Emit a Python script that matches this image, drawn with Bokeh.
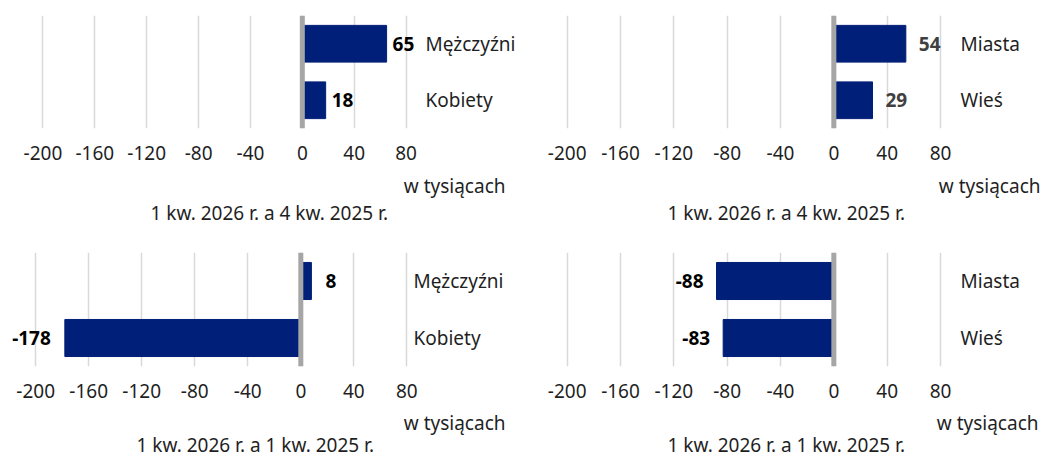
from bokeh.plotting import figure
from bokeh.models import (ColumnDataSource, FactorRange, Range1d, FixedTicker,
                          Span, Title)
from bokeh.layouts import column, row
from bokeh.core.properties import value
from bokeh.embed import file_html
from bokeh.resources import INLINE

# ---- data ----
cats_gender = ["Mężczyźni", "Kobiety"]
cats_place = ["Miasta", "Wieś"]
qoq_gender = [65, 18]      # 1 kw. 2026 vs 4 kw. 2025
qoq_place = [54, 29]
yoy_gender = [8, -178]     # 1 kw. 2026 vs 1 kw. 2025
yoy_place = [-88, -83]
x_ticks = [-200, -160, -120, -80, -40, 0, 40, 80]
subtitle_qoq = "1 kw. 2026 r. a 4 kw. 2025 r."
subtitle_yoy = "1 kw. 2026 r. a 1 kw. 2025 r."
unit_label = "w tysiącach"

FONT = "Noto Sans"
FS = "19px"
BAR = "#001f78"
TXT = "#1f1f1f"


def panel(cats, vals, subtitle, width, height, x_start, x_end, mb_left, mb_right,
          mb_top, mb_bottom, gap, label_color, unit_off, sub_off,
          s_axis, s_t1, s_t2):
    p = figure(width=width, height=height, output_backend="svg",
               toolbar_location=None, y_axis_location="right",
               x_range=Range1d(x_start, x_end),
               y_range=FactorRange(factors=list(reversed(cats)), range_padding=0),
               min_border_left=mb_left, min_border_right=mb_right,
               min_border_top=mb_top, min_border_bottom=mb_bottom)
    p.outline_line_color = None
    p.background_fill_color = "white"
    p.border_fill_color = "white"

    src = ColumnDataSource(dict(
        cat=cats, val=vals, lbl=[str(v) for v in vals],
        align=["left" if v >= 0 else "right" for v in vals],
        off=[gap if v >= 0 else -gap for v in vals],
    ))
    p.hbar(y="cat", left=0, right="val", height=0.65, source=src,
           fill_color=BAR, line_color=BAR)
    p.text(x="val", y="cat", text="lbl", source=src, x_offset="off",
           text_align="align", text_baseline="middle",
           text_font=value(FONT), text_font_size=FS, text_font_style="bold",
           text_color=label_color)

    p.add_layout(Span(location=0, dimension="height", line_color="#a6a6a6",
                      line_width=5))

    xa = p.xaxis[0]
    xa.ticker = FixedTicker(ticks=x_ticks)
    xa.major_label_overrides = {t: str(t) for t in x_ticks}
    xa.axis_line_color = None
    xa.major_tick_line_color = None
    xa.minor_tick_line_color = None
    xa.major_tick_out = 0
    xa.major_label_standoff = s_axis
    xa.major_label_text_font = FONT
    xa.major_label_text_font_size = FS
    xa.major_label_text_color = TXT

    p.xgrid.ticker = FixedTicker(ticks=x_ticks)
    p.xgrid.grid_line_color = "#d9d9d9"
    p.xgrid.grid_line_width = 1.5
    p.ygrid.grid_line_color = None

    ya = p.yaxis[0]
    ya.axis_line_color = None
    ya.major_tick_line_color = None
    ya.major_tick_out = 0
    ya.major_label_standoff = 0
    ya.major_label_text_font = FONT
    ya.major_label_text_font_size = FS
    ya.major_label_text_color = TXT

    t1 = Title(text=unit_label, align="right", offset=unit_off, standoff=s_t1,
               text_font=FONT, text_font_size=FS, text_font_style="normal",
               text_color=TXT)
    t2 = Title(text=subtitle, align="left", offset=sub_off, standoff=s_t2,
               text_font=FONT, text_font_size=FS, text_font_style="normal",
               text_color=TXT)
    p.add_layout(t1, "below")
    p.add_layout(t2, "below")
    return p


p1 = panel(cats_gender, qoq_gender, subtitle_qoq, 528, 240, -205, 95, 36, 103, 15, 112,
           6, "#000000", -80, 114, 17, 16, -18)
p2 = panel(cats_place, qoq_place, subtitle_qoq, 515, 240, -205, 95, 32, 83, 15, 112,
           13, "#404040", -80, 107, 17, 16, -18)
p3 = panel(cats_gender, yoy_gender, subtitle_yoy, 528, 219, -222, 85, 6, 115, 12, 93,
           14, "#000000", -92, 130, 17, 14, -26)
p4 = panel(cats_place, yoy_place, subtitle_yoy, 515, 219, -205, 95, 32, 83, 12, 93,
           13, "#000000", -78, 107, 17, 14, -26)

layout = column(row(p1, p2), row(p3, p4))
open("out.html", "w").write(file_html(layout, INLINE))
